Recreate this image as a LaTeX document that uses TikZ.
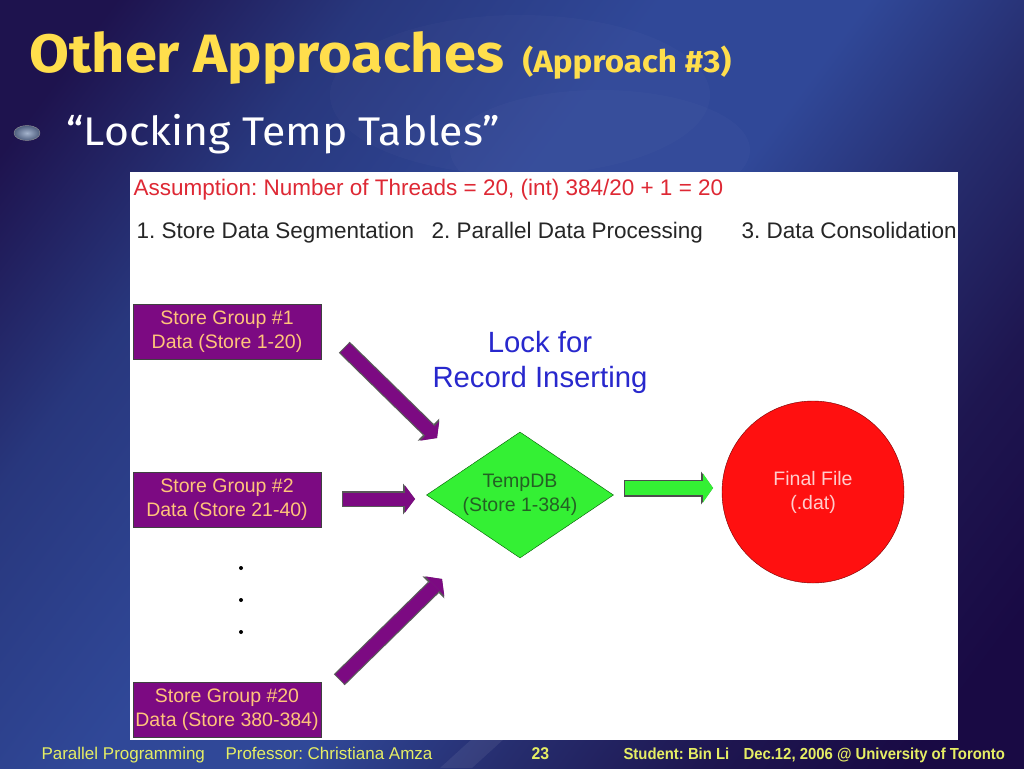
\documentclass[tikz,border=0pt]{standalone}
\usepackage{fontspec}
\setmainfont{Liberation Sans}
\newfontfamily\slidefont[FakeStretch=1.07]{Fira Sans}
\newfontfamily\footboldfont[FakeStretch=0.93]{Liberation Sans}
\usetikzlibrary{arrows.meta, positioning, shapes.geometric}
\frenchspacing

\definecolor{bgdark}{RGB}{30,19,78}
\definecolor{bgmid}{RGB}{40,55,125}
\definecolor{bgblue}{RGB}{48,72,152}
\definecolor{bgfade}{RGB}{38,45,110}
\definecolor{bgnight}{RGB}{30,22,80}
\definecolor{bgdeep}{RGB}{25,10,68}
\definecolor{titleyellow}{RGB}{255,222,76}
\definecolor{footyellow}{RGB}{230,238,100}
\definecolor{boxpurple}{RGB}{124,10,130}
\definecolor{boxtext}{RGB}{255,196,122}
\definecolor{dbgreen}{RGB}{52,240,52}
\definecolor{dbtext}{RGB}{36,96,36}
\definecolor{filered}{RGB}{255,16,16}
\definecolor{filetext}{RGB}{255,205,205}
\definecolor{lockblue}{RGB}{40,40,205}
\definecolor{notered}{RGB}{222,40,52}
\definecolor{steptext}{RGB}{38,38,38}
\definecolor{bulletlight}{RGB}{165,180,205}
\definecolor{bulletdark}{RGB}{78,94,126}

\pgfdeclarehorizontalshading{slideband}{100bp}{color(0bp)=(bgdark); color(20bp)=(bgdark);
  color(31bp)=(bgmid); color(44bp)=(bgblue); color(53bp)=(bgblue); color(62bp)=(bgfade);
  color(71bp)=(bgnight); color(80bp)=(bgdeep); color(100bp)=(bgdeep)}

\newcommand{\fsz}[2]{\fontsize{#1}{#2}\selectfont}

\tikzset{
  purplebox/.style={draw=black!75, fill=boxpurple, text=boxtext, minimum width=188pt,
    minimum height=55pt, inner sep=0pt, align=center, font=\fsz{19.5}{24}},
  steplabel/.style={anchor=base west, text=steptext, font=\fsz{22.5}{26}},
  footlabel/.style={anchor=base west, text=footyellow, font=\fsz{17}{20}},
  footbold/.style={anchor=base west, text=footyellow, font=\footboldfont\bfseries\fsz{16}{18}},
  purplerim/.style={line width=15.5pt, draw=black!65, shorten <=-1pt,
    -{Triangle[width=31pt,length=12pt,line width=0pt]}},
  purplebody/.style={line width=13pt, draw=boxpurple,
    -{Triangle[width=27pt,length=10pt,line width=0pt]}},
  greenrim/.style={line width=17pt, draw=black!70, shorten <=-1pt,
    -{Triangle[width=33pt,length=12pt,line width=0pt]}},
  greenbody/.style={line width=14pt, draw=dbgreen,
    -{Triangle[width=29pt,length=10pt,line width=0pt]}}
}

\begin{document}
\begin{tikzpicture}[x=1pt, y=-1pt]
  \useasboundingbox (0,0) rectangle (1024,768);
  % slide background
  \shade[shading=slideband, shading angle=-36.87] (0,0) rectangle (1024,768);
  \fill[white, opacity=0.02] (520,95) ellipse (190pt and 80pt);
  \fill[white, opacity=0.02] (600,150) ellipse (150pt and 60pt);
  \fill[white, opacity=0.07] (440,768) -- (472,768) -- (505,738) -- (473,738) -- cycle;

  % title and bullet
  \node[anchor=base west, text=titleyellow, font=\slidefont\bfseries\fsz{54}{60}] (title) at (26,72) {Other Approaches};
  \node[anchor=base west, text=titleyellow, font=\slidefont\bfseries\fsz{31}{34}] (approach) at (519,72) {(Approach \#3)};
  \node[ellipse, minimum width=26pt, minimum height=15pt, inner sep=0pt, draw=black!40,
    inner color=bulletlight, outer color=bulletdark] (bullet) at (27,133) {};
  \node[anchor=base west, text=white, font=\slidefont\fsz{40}{44}] (subtitle) at (63,145) {“Locking Temp Tables”};

  % diagram panel
  \fill[white] (130,172) rectangle (958,740);
  \node[anchor=base west, text=notered, font=\fsz{22.5}{26}] (assume) at (130,195) {Assumption: Number of Threads = 20, (int) 384/20 + 1 = 20};
  \node[steplabel] (seg) at (133,238) {1. Store Data Segmentation};
  \node[steplabel] (proc) at (428,238) {2. Parallel Data Processing};
  \node[steplabel] (cons) at (738,238) {3. Data Consolidation};

  \node[purplebox] (g1) at (227,332) {Store Group \#1\\Data (Store 1-20)};
  \node[purplebox] (g2) at (227,500) {Store Group \#2\\Data (Store 21-40)};
  \node[purplebox] (g20) at (227,710) {Store Group \#20\\Data (Store 380-384)};
  \foreach \y in {568,600,632}
    \fill (241,\y) circle (2pt);

  \node[text=lockblue, align=center, font=\fsz{29.3}{35}] (lock) at (540,362) {Lock for\\Record Inserting};
  \node[diamond, draw=green!35!black, fill=dbgreen, minimum width=187pt, minimum height=126pt, inner sep=0pt] (db) at (520,495) {};
  \node[text=dbtext, align=center, font=\fsz{19.5}{24}] (dbtxt) at (db) {TempDB\\(Store 1-384)};
  \node[circle, draw=red!45!black, fill=filered, minimum size=182pt, text=filetext, align=center, font=\fsz{19.5}{24}] (ff) at (813,492) {Final File\\(.dat)};

  % block arrows
  \coordinate (s1) at (345,348);  \coordinate (e1) at (437,438);
  \coordinate (s2) at (343,499);  \coordinate (e2) at (415,499);
  \coordinate (s20) at (340,679); \coordinate (e20) at (442,579);
  \coordinate (sg) at (625,488);  \coordinate (eg) at (713,488);
  \foreach \s/\e in {s1/e1, s2/e2, s20/e20} {
    \draw[purplerim] (\s) -- (\e);
    \draw[purplebody] (\s) -- (\e);
  }
  \draw[greenrim] (sg) -- (eg);
  \draw[greenbody] (sg) -- (eg);

  % footer
  \node[footlabel] (course) at (38,759) {Parallel Programming};
  \node[footlabel] (prof) at (222,759) {Professor: Christiana Amza};
  \node[footbold, font=\footboldfont\bfseries\fsz{17}{20}] (page) at (528,759) {23};
  \node[footbold] (student) at (620,759) {Student: Bin Li};
  \node[footbold] (date) at (740,759) {Dec.12, 2006 @ University of Toronto};
\end{tikzpicture}
\end{document}
